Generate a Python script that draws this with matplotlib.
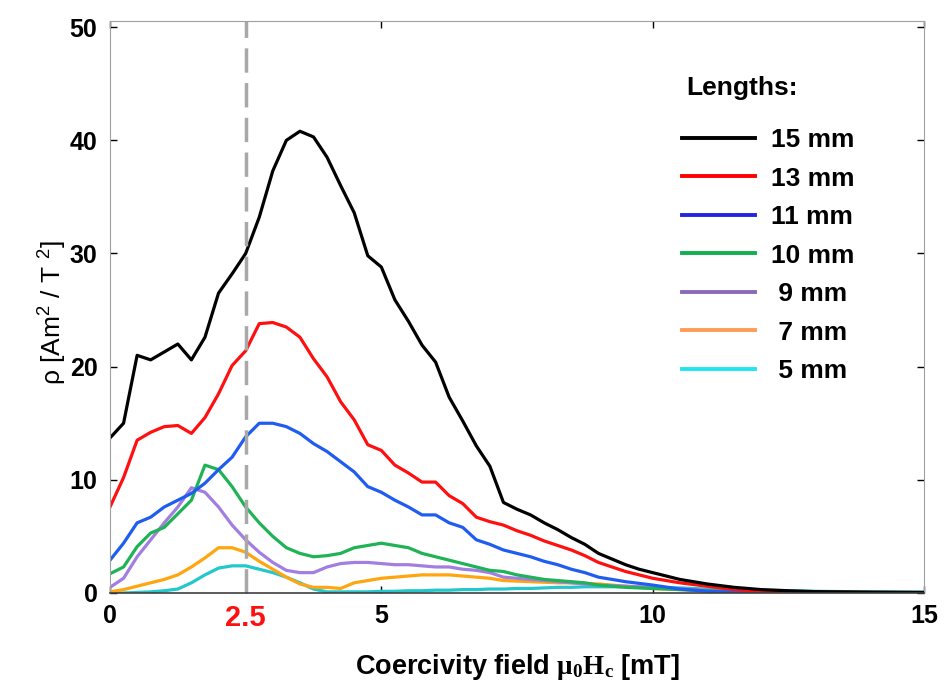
import matplotlib
matplotlib.use("Agg")
import matplotlib.pyplot as plt
from matplotlib.lines import Line2D

plt.rcParams['font.family'] = ['Liberation Sans', 'DejaVu Sans']
plt.rcParams['mathtext.fontset'] = 'custom'
plt.rcParams['mathtext.rm'] = 'Liberation Sans'
plt.rcParams['mathtext.bf'] = 'Liberation Serif:bold'

# field values [mT], step 0.25 up to 10, then coarser tail
field = [0, 0.25, 0.5, 0.75, 1.0, 1.25, 1.5, 1.75, 2.0, 2.25, 2.5, 2.75,
         3.0, 3.25, 3.5, 3.75, 4.0, 4.25, 4.5, 4.75, 5.0, 5.25, 5.5, 5.75,
         6.0, 6.25, 6.5, 6.75, 7.0, 7.25, 7.5, 7.75, 8.0, 8.25, 8.5, 8.75,
         9.0, 9.25, 9.5, 9.75, 10.0, 10.5, 11.0, 11.5, 12.0, 12.5, 13.0,
         14.0, 15.0]

len15 = [13.7, 15.0, 21.0, 20.6, 21.3, 22.0, 20.6, 22.6, 26.5, 28.2, 30.0, 33.2,
         37.3, 40.0, 40.8, 40.3, 38.5, 36.0, 33.6, 29.8, 28.8, 25.9, 24.0, 21.9,
         20.4, 17.3, 15.2, 13.0, 11.2, 8.0, 7.4, 6.9, 6.2, 5.6, 4.9, 4.3,
         3.5, 3.0, 2.5, 2.1, 1.8, 1.2, 0.8, 0.5, 0.3, 0.2, 0.12,
         0.08, 0.05]
len13 = [7.6, 10.2, 13.5, 14.2, 14.7, 14.8, 14.1, 15.5, 17.6, 20.1, 21.4, 23.8,
         23.9, 23.5, 22.6, 20.7, 19.1, 16.9, 15.3, 13.1, 12.6, 11.3, 10.6, 9.8,
         9.8, 8.6, 7.9, 6.7, 6.3, 6.0, 5.5, 5.1, 4.6, 4.2, 3.8, 3.3,
         2.7, 2.3, 1.9, 1.6, 1.3, 0.9, 0.6, 0.3, 0.15, 0.1, 0.06,
         0.04, 0.03]
len11 = [2.9, 4.4, 6.2, 6.7, 7.6, 8.2, 8.8, 9.7, 10.9, 12.0, 13.8, 15.0,
         15.0, 14.7, 14.1, 13.2, 12.5, 11.6, 10.7, 9.4, 8.9, 8.2, 7.6, 6.9,
         6.9, 6.2, 5.8, 4.7, 4.3, 3.8, 3.5, 3.2, 2.8, 2.5, 2.1, 1.8,
         1.4, 1.2, 1.0, 0.85, 0.7, 0.35, 0.15, 0.08, 0.05, 0.03, 0.02,
         0.02, 0.02]
len10 = [1.7, 2.3, 4.1, 5.3, 5.8, 7.0, 8.2, 11.3, 10.9, 9.4, 7.6, 6.2,
         5.0, 4.0, 3.5, 3.2, 3.3, 3.5, 4.0, 4.2, 4.4, 4.2, 4.0, 3.5,
         3.2, 2.9, 2.6, 2.3, 2.0, 1.9, 1.6, 1.4, 1.2, 1.1, 1.0, 0.9,
         0.7, 0.6, 0.5, 0.45, 0.4, 0.3, 0.2, 0.15, 0.1, 0.07, 0.05,
         0.03, 0.02]
len9 = [0.5, 1.3, 3.2, 4.7, 6.2, 7.6, 9.3, 8.9, 7.6, 6.0, 4.7, 3.6,
        2.7, 2.0, 1.8, 1.8, 2.3, 2.6, 2.7, 2.7, 2.6, 2.5, 2.5, 2.4,
        2.3, 2.3, 2.1, 2.0, 1.8, 1.4, 1.3, 1.2, 1.1, 1.0, 0.9, 0.8,
        0.7, 0.65, 0.6, 0.55, 0.5, 0.35, 0.25, 0.15, 0.1, 0.07, 0.05,
        0.03, 0.02]
len7 = [0.1, 0.3, 0.6, 0.9, 1.2, 1.6, 2.3, 3.1, 4.0, 4.0, 3.6, 2.8,
        2.1, 1.4, 0.8, 0.5, 0.5, 0.4, 0.9, 1.1, 1.3, 1.4, 1.5, 1.6,
        1.6, 1.6, 1.5, 1.4, 1.3, 1.1, 1.05, 1.0, 0.95, 0.9, 0.9, 0.85,
        0.8, 0.7, 0.6, 0.5, 0.4, 0.3, 0.2, 0.12, 0.08, 0.06, 0.05,
        0.04, 0.03]
len5 = [0.0, 0.0, 0.05, 0.1, 0.2, 0.35, 0.9, 1.6, 2.2, 2.4, 2.4, 2.1,
        1.8, 1.4, 0.9, 0.35, 0.1, 0.1, 0.1, 0.1, 0.15, 0.15, 0.2, 0.2,
        0.25, 0.25, 0.3, 0.3, 0.35, 0.35, 0.4, 0.4, 0.45, 0.5, 0.5, 0.55,
        0.55, 0.55, 0.55, 0.5, 0.5, 0.45, 0.35, 0.3, 0.25, 0.2, 0.15,
        0.1, 0.08]

# (label, values, curve colour, legend colour)
series = [("15 mm", len15, "black", "black"),
          ("13 mm", len13, "#ff1010", "#ff0000"),
          ("11 mm", len11, "#1f5cf0", "#2424e0"),
          ("10 mm", len10, "#1fb355", "#10b050"),
          (" 9 mm", len9, "#a27ee0", "#8a6ab8"),
          (" 7 mm", len7, "#ffa510", "#ff9c55"),
          (" 5 mm", len5, "#22c8cc", "#22e4f0")]

x_ticks = [0, 2.5, 5, 10, 15]
x_ticklabels = ["0", "2.5", "5", "10", "15"]
y_ticks = [0, 10, 20, 30, 40, 50]

fig = plt.figure(figsize=(9.49, 6.82), dpi=100)
ax = fig.add_axes([0.1159, 0.1305, 0.8578, 0.838])

for name, vals, col, _ in reversed(series):
    ax.plot(field, vals, color=col, lw=2.3)

ax.axvline(2.5, color="#a8a8a8", lw=2.5, dashes=(7, 3))

ax.set_xlim(0, 15)
ax.set_ylim(0, 50.5)
ax.set_xticks(x_ticks)
ax.set_xticklabels(x_ticklabels)
ax.set_yticks(y_ticks)
ax.tick_params(direction="in", length=5, width=1, labelsize=18,
               top=True, right=True)
ax.tick_params(axis="x", pad=8)
ax.tick_params(axis="y", pad=9)
for lab in ax.get_xticklabels() + ax.get_yticklabels():
    lab.set_fontweight("bold")
xl = ax.get_xticklabels()[1]
xl.set_color("#ff1010")
xl.set_fontsize(21)

for s in ["left", "top", "right"]:
    ax.spines[s].set_color("#a0a0a0")
ax.spines["bottom"].set_color("#404040")
ax.spines["bottom"].set_linewidth(1.2)

ax.set_xlabel(r"Coercivity field $\mathbf{\mu_0H_c}$ [mT]", fontsize=19.5,
              fontweight="bold", va="center")
ax.xaxis.set_label_coords(0.5, -0.13)
ax.set_ylabel(r"ρ [Am$^{2}$ / T $^{2}$]", fontsize=19, va="center")
ax.yaxis.set_label_coords(-0.072, 0.49)

ax.text(686, 682 - 88, "Lengths:", transform=None, fontsize=19,
        fontweight="bold", ha="left", va="center")

handles = [Line2D([], [], color=lc, lw=2.8) for _, _, _, lc in series]
labels = [name for name, _, _, _ in series]
leg = ax.legend(handles, labels, loc="upper left",
                bbox_to_anchor=(0.673, 0.855), frameon=False,
                prop={"weight": "bold", "size": 19},
                handlelength=2.8, handletextpad=0.6, labelspacing=0.55)

fig.savefig("out.png", dpi=100)
